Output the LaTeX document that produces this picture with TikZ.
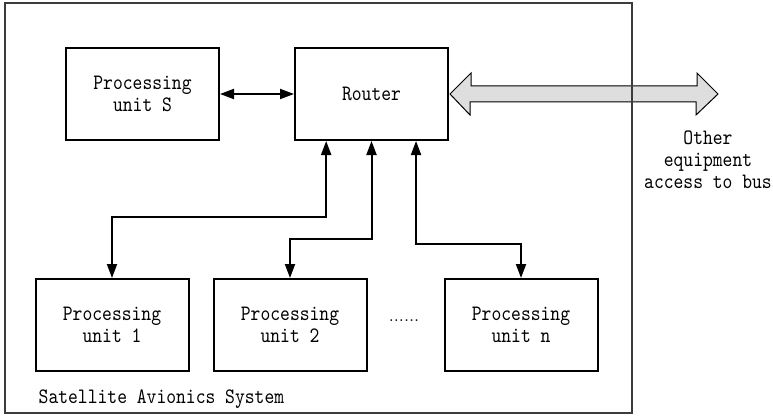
\documentclass[tikz,border=0pt]{standalone}
\usepackage{fontspec}
\usepackage{xcolor}
\usepackage{tikz}
\usetikzlibrary{arrows.meta}
\newfontfamily\unitfont{lmmono10-regular}[Extension = .otf, FakeStretch = 0.85]
\definecolor{busgray}{RGB}{222, 222, 222}
\definecolor{framegray}{RGB}{60, 60, 60}

\begin{document}
\begin{tikzpicture}[x = 0.75pt, y = -0.75pt,
	unit/.style = {draw, line width = 1.5pt, minimum width = 114.75pt, minimum height = 69pt, align = center, font = \unitfont\fontsize{16.5}{16.5}\selectfont},
	link/.style = {line width = 1.5pt, {Triangle[length = 10.5pt, width = 7.5pt]}-{Triangle[length = 10.5pt, width = 7.5pt]}},
	note/.style = {align = center, font = \unitfont\fontsize{16.5}{16.5}\selectfont}]
			\useasboundingbox (0,0) rectangle (773,417);
			\node (s) at (142.5,94) [unit] {Processing\\unit S};
			\node (router) at (371.5,94) [unit] {Router};
			\node (p1) at (112,325) [unit] {Processing\\unit 1};
			\node (p2) at (290,325) [unit] {Processing\\unit 2};
			\node (pn) at (521,325) [unit] {Processing\\unit n};
			\node (dots) at (404,321) [font = \rmfamily\fontsize{14}{16.5}\selectfont] {......};
			\node (other) at (708,160) [note] {Other\\equipment\\access to bus};
			\node (sys) at (34,399) [anchor = west, note] {Satellite Avionics System};
			\coordinate (bus) at (718,94);
			% bus arrow out of the router
			\draw [fill = busgray, line width = 0.75pt] ([xshift = 0.75pt]router.east) -- ++(21,-21) -- ++(0,13) -- ++(226,0) -- ++(0,-13) -- (bus)
				-- ++(-22,21) -- ++(0,-13) -- ++(-226,0) -- ++(0,13) -- cycle;
			\draw [link] (s) -- (router);
			\draw [link] ([xshift = -34pt]router.south) -- ++(0,76) -| (p1.north);
			\draw [link] (router.south) -- ++(0,98) -| (p2.north);
			\draw [link] ([xshift = 33.4pt]router.south) -- ++(0,103) -| (pn.north);
			\draw [framegray, line width = 0.8pt] (5,3) rectangle (632,413);
			\end{tikzpicture}
\end{document}
